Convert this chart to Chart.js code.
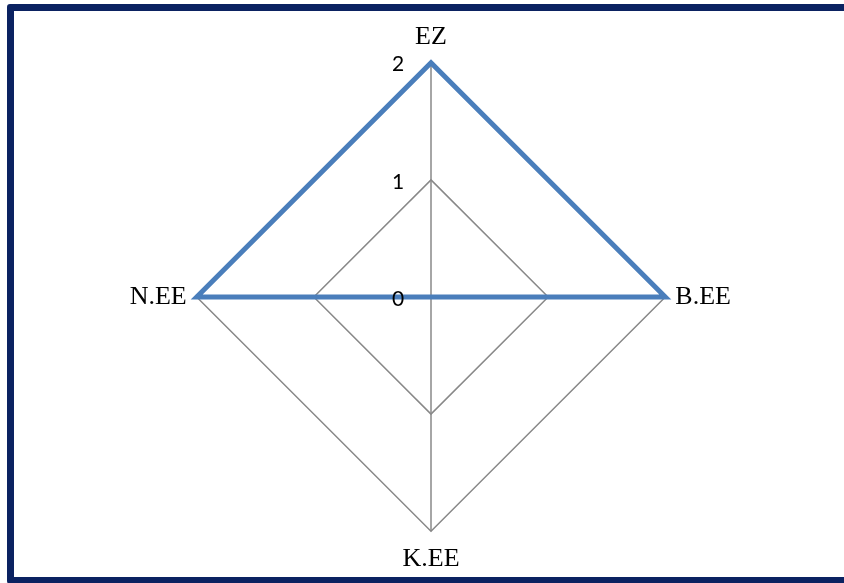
<!DOCTYPE html>
<html>
<head>
<meta charset="utf-8">
<script src="https://cdn.jsdelivr.net/npm/chart.js@4/dist/chart.umd.min.js"></script>
<style>
  html, body { margin: 0; padding: 0; background: #ffffff; overflow: hidden; }
  #wrap { position: absolute; left: 0; top: 0; width: 844px; height: 583px; }
  #frame { position: absolute; left: 7px; top: 4px; width: 900px; height: 580px; box-sizing: border-box;
           border: 7px solid #0b2261; border-radius: 3px; pointer-events: none; }
  #c { position: absolute; left: 0; top: 0; }
</style>
</head>
<body>
<div id="wrap">
  <canvas id="c" width="844" height="583"></canvas>
  <div id="frame"></div>
</div>
<script>
const categories = ['EZ', 'B.EE', 'K.EE', 'N.EE'];
const seriesValues = [2, 2, 0, 2];
const tickValues = [0, 1, 2];
const labelPaddings = [9.5, 10, 12.5, 10];

const tickLabelPlugin = {
  id: 'tickLabelPlugin',
  afterDatasetsDraw(chart) {
    const s = chart.scales.r;
    const ctx = chart.ctx;
    ctx.save();
    ctx.font = '21px Lato, "Open Sans", sans-serif';
    ctx.fillStyle = '#000000';
    ctx.textAlign = 'center';
    ctx.textBaseline = 'middle';
    tickValues.forEach(v => {
      const d = s.getDistanceFromCenterForValue(v);
      ctx.fillText(String(v), s.xCenter - 33, s.yCenter - d + 2);
    });
    ctx.restore();
  }
};

new Chart(document.getElementById('c'), {
  type: 'radar',
  data: {
    labels: categories,
    datasets: [{
      data: seriesValues,
      borderColor: '#4a7ebb',
      borderWidth: 5,
      fill: false,
      pointRadius: 0,
      pointHoverRadius: 0,
      tension: 0
    }]
  },
  options: {
    responsive: false,
    animation: false,
    events: [],
    layout: { padding: { top: 22, bottom: 6, left: 18, right: 0 } },
    plugins: { legend: { display: false }, tooltip: { enabled: false } },
    scales: {
      r: {
        min: 0,
        max: 2,
        ticks: { display: false, stepSize: 1 },
        grid: { color: '#888888', lineWidth: 1.5 },
        angleLines: { color: '#888888', lineWidth: 1.5 },
        pointLabels: {
          padding: (ctx) => labelPaddings[ctx.index],
          color: '#000000',
          font: { family: '"Liberation Serif", "Times New Roman", serif', size: 26 }
        }
      }
    }
  },
  plugins: [tickLabelPlugin]
});
</script>
</body>
</html>
